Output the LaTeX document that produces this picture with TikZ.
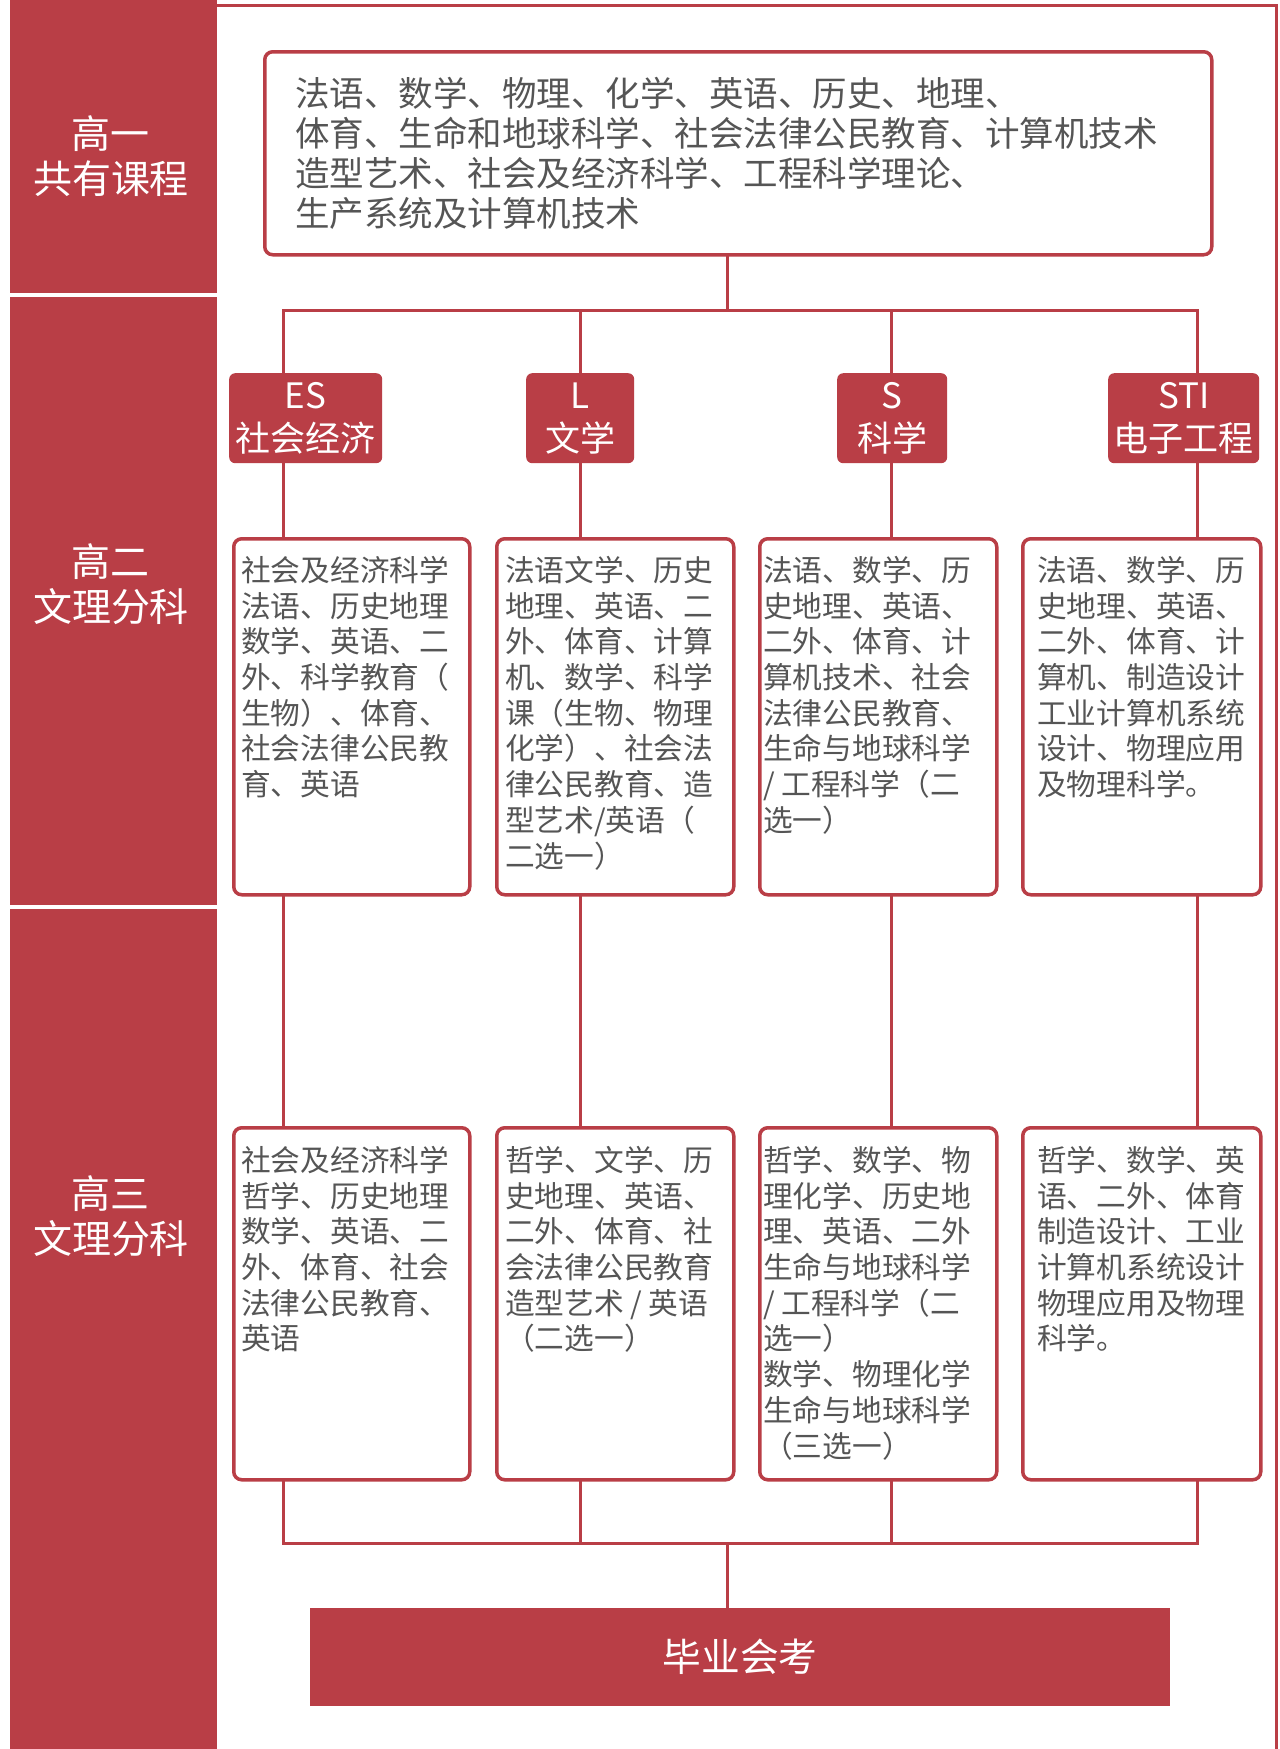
\documentclass[tikz,border=0pt]{standalone}
\usepackage{fontspec}
\setmainfont{Noto Sans CJK SC}
\definecolor{hred}{RGB}{185,62,70}
\definecolor{tgray}{RGB}{85,85,85}
\begin{document}
\begin{tikzpicture}[x=1pt,y=-1pt,
  colbox/.style={fill=hred,draw=none,anchor=north west,inner sep=0pt,outer sep=0pt},
  coltext/.style={text=white,align=center,inner sep=0pt,font=\fontsize{39}{45}\selectfont},
  wbox/.style={draw=hred,line width=3.5pt,fill=white,rounded corners=8pt,anchor=north west,inner sep=0pt},
  hdr/.style={fill=hred,draw=none,rounded corners=6pt,anchor=north west,inner sep=0pt,text=white,align=center,font=\fontsize{35}{43}\selectfont},
  btext/.style={text=tgray,align=left,anchor=north west,inner sep=0pt,font=\fontsize{29.7}{35.7}\selectfont},
  conn/.style={draw=hred,line width=3pt,line cap=rect},
  frame/.style={draw=hred,line width=3pt},
]
\useasboundingbox (0,0) rectangle (1280,1749);
\fill[white] (0,0) rectangle (1280,1749);

% left column
\node[colbox,minimum width=207pt,minimum height=293pt] (c1) at (10,0) {};
\node[colbox,minimum width=207pt,minimum height=608pt] (c2) at (10,297) {};
\node[colbox,minimum width=207pt,minimum height=840pt] (c3) at (10,909) {};
\node[coltext] (t1) at (111,156) {高一\\共有课程};
\node[coltext] (t2) at (111,584) {高二\\文理分科};
\node[coltext] (t3) at (111,1216) {高三\\文理分科};

% frame
\draw[frame] (217,5) -- (1276,5) -- (1276,1752);

% top box
\node[wbox,minimum width=947pt,minimum height=203pt] (top) at (263,50) {};
\node[btext,font=\fontsize{34.5}{40}\selectfont] (toptext) at (295,77) {法语、数学、物理、化学、英语、历史、地理、\\体育、生命和地球科学、社会法律公民教育、计算机技术\\造型艺术、社会及经济科学、工程科学理论、\\生产系统及计算机技术};

% headers
\node[hdr,minimum width=153pt,minimum height=90pt] (hES) at (229,373) {ES\\社会经济};
\node[hdr,minimum width=108pt,minimum height=90pt] (hL) at (526,373) {L\\文学};
\node[hdr,minimum width=110pt,minimum height=90pt] (hS) at (837,373) {S\\科学};
\node[hdr,minimum width=151pt,minimum height=90pt] (hSTI) at (1108,373) {STI\\电子工程};

% row 2 boxes
\node[wbox,minimum width=236pt,minimum height=356pt] (b2a) at (232,537) {};
\node[wbox,minimum width=237pt,minimum height=356pt] (b2b) at (495,537) {};
\node[wbox,minimum width=237pt,minimum height=356pt] (b2c) at (758,537) {};
\node[wbox,minimum width=238pt,minimum height=356pt] (b2d) at (1021,537) {};
\node[btext] (t2a) at (241,556) {社会及经济科学\\法语、历史地理\\数学、英语、二\\外、科学教育（\\生物）、体育、\\社会法律公民教\\育、英语};
\node[btext] (t2b) at (505,556) {法语文学、历史\\地理、英语、二\\外、体育、计算\\机、数学、科学\\课（生物、物理\\化学）、社会法\\律公民教育、造\\型艺术/英语（\\二选一）};
\node[btext] (t2c) at (763,556) {法语、数学、历\\史地理、英语、\\二外、体育、计\\算机技术、社会\\法律公民教育、\\生命与地球科学\\/ 工程科学（二\\选一）};
\node[btext] (t2d) at (1037,556) {法语、数学、历\\史地理、英语、\\二外、体育、计\\算机、制造设计\\工业计算机系统\\设计、物理应用\\及物理科学。};

% row 3 boxes
\node[wbox,minimum width=236pt,minimum height=352pt] (b3a) at (232,1126) {};
\node[wbox,minimum width=237pt,minimum height=352pt] (b3b) at (495,1126) {};
\node[wbox,minimum width=237pt,minimum height=352pt] (b3c) at (758,1126) {};
\node[wbox,minimum width=238pt,minimum height=352pt] (b3d) at (1021,1126) {};
\node[btext] (t3a) at (241,1146) {社会及经济科学\\哲学、历史地理\\数学、英语、二\\外、体育、社会\\法律公民教育、\\英语};
\node[btext] (t3b) at (505,1146) {哲学、文学、历\\史地理、英语、\\二外、体育、社\\会法律公民教育\\造型艺术 / 英语\\（二选一）};
\node[btext] (t3c) at (763,1146) {哲学、数学、物\\理化学、历史地\\理、英语、二外\\生命与地球科学\\/ 工程科学（二\\选一）\\数学、物理化学\\生命与地球科学\\（三选一）};
\node[btext] (t3d) at (1037,1146) {哲学、数学、英\\语、二外、体育\\制造设计、工业\\计算机系统设计\\物理应用及物理\\科学。};

% final box
\node[fill=hred,draw=none,anchor=north west,inner sep=0pt,minimum width=860pt,minimum height=98pt,text=white,font=\fontsize{38.7}{40}\selectfont] (final) at (310,1608) {毕业会考};

% coordinates for connector routing
\coordinate (xA) at (283,0);
\coordinate (xB) at (580,0);
\coordinate (xC) at (891,0);
\coordinate (xD) at (1197,0);
\coordinate (xM) at (727,0);
\coordinate (bus1) at (0,310);
\coordinate (bus2) at (0,1543);

% connectors
\draw[conn] (top.south -| xM) -- (xM |- bus1);
\draw[conn] (xA |- bus1) -- (xD |- bus1);
\foreach \c/\h/\m/\n in {xA/hES/b2a/b3a, xB/hL/b2b/b3b, xC/hS/b2c/b3c, xD/hSTI/b2d/b3d}{
  \draw[conn] (\c |- bus1) -- (\h.north -| \c);
  \draw[conn] (\h.south -| \c) -- (\m.north -| \c);
  \draw[conn] (\m.south -| \c) -- (\n.north -| \c);
  \draw[conn] (\n.south -| \c) -- (\c |- bus2);
}
\draw[conn] (xA |- bus2) -- (xD |- bus2);
\draw[conn] (xM |- bus2) -- (final.north -| xM);
\end{tikzpicture}
\end{document}
